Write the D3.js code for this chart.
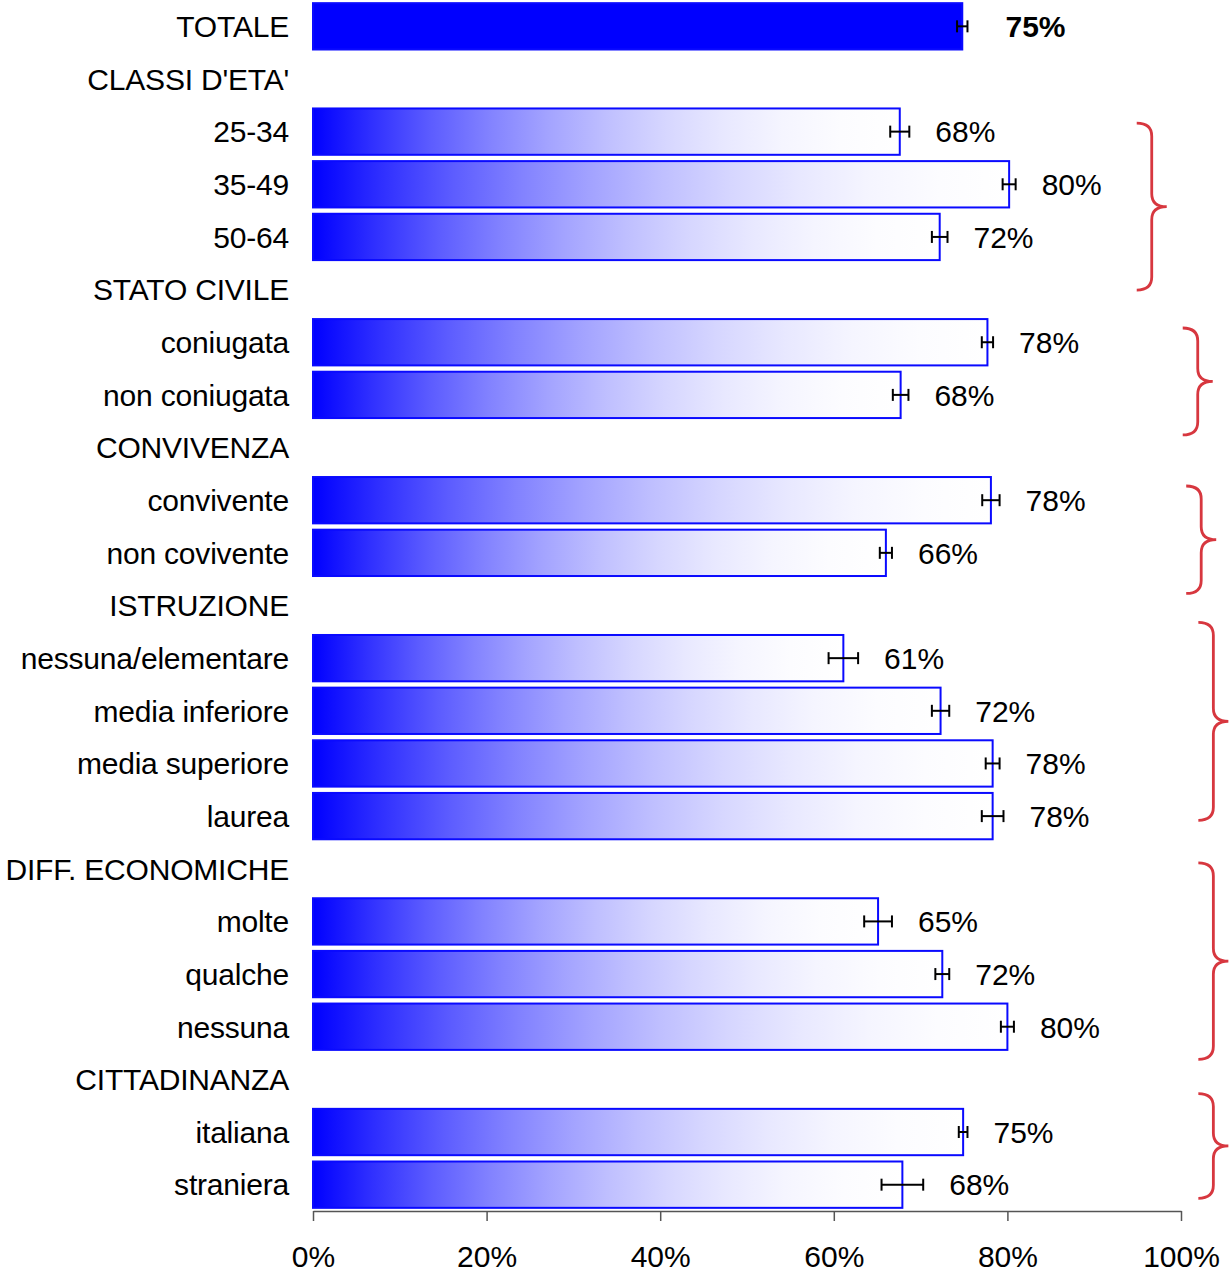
<!DOCTYPE html>
<html>
<head>
<meta charset="utf-8">
<script src="https://cdn.jsdelivr.net/npm/d3@7"></script>
<style>
  body { margin: 0; background: #fff; }
  text { font-family: "Liberation Sans", Arial, sans-serif; }
</style>
</head>
<body>
<svg id="chart" width="1230" height="1274"></svg>
<script>
// row labels (headers have no value)
var labels = ["TOTALE", "CLASSI D'ETA'", "25-34", "35-49", "50-64",
  "STATO CIVILE", "coniugata", "non coniugata",
  "CONVIVENZA", "convivente", "non covivente",
  "ISTRUZIONE", "nessuna/elementare", "media inferiore", "media superiore", "laurea",
  "DIFF. ECONOMICHE", "molte", "qualche", "nessuna",
  "CITTADINANZA", "italiana", "straniera"];

// percentages
var values = [74.8, null, 67.6, 80.2, 72.2,
  null, 77.7, 67.7,
  null, 78.1, 66.0,
  null, 61.1, 72.3, 78.3, 78.3,
  null, 65.1, 72.5, 80.0,
  null, 74.9, 67.9];

// half width of the confidence interval
var errors = [0.6, null, 1.1, 0.75, 0.9,
  null, 0.65, 0.9,
  null, 1.0, 0.7,
  null, 1.7, 1.0, 0.8, 1.25,
  null, 1.6, 0.8, 0.75,
  null, 0.5, 2.4];

var valueLabels = ["75%", "", "68%", "80%", "72%",
  "", "78%", "68%",
  "", "78%", "66%",
  "", "61%", "72%", "78%", "78%",
  "", "65%", "72%", "80%",
  "", "75%", "68%"];

var xTicks = [0, 20, 40, 60, 80, 100];

// red braces: x in %, from/to in row units
var braceX = [94.9, 100.2, 100.6, 102.0, 102.0, 102.0];
var braceFrom = [1.84, 5.73, 8.73, 11.32, 15.89, 20.27];
var braceTo = [5.01, 7.76, 10.77, 15.08, 19.62, 22.26];

var svg = d3.select("#chart");

var x = d3.scaleLinear().domain([0, 100]).range([313, 1181]);
var y = d3.scaleBand()
  .domain(d3.range(labels.length))
  .range([0, 1211])
  .paddingInner(0.12)
  .paddingOuter(0.06);

// row index (fractional) -> pixel centre
var rowY = d3.scaleLinear()
  .domain([0, labels.length - 1])
  .range([y(0) + y.bandwidth() / 2, y(labels.length - 1) + y.bandwidth() / 2]);

// gradient blue -> white, eased
var defs = svg.append("defs");
var grad = defs.append("linearGradient").attr("id", "fade")
  .attr("x1", "0").attr("x2", "1").attr("y1", "0").attr("y2", "0");
d3.range(0, 1.0001, 0.1).forEach(function (t) {
  var w = 1 - Math.pow(1 - t, 2);
  grad.append("stop")
    .attr("offset", t)
    .attr("stop-color", d3.interpolateRgb("#0000ff", "#ffffff")(w));
});

var rows = labels.map(function (l, i) {
  return { label: l, value: values[i], err: errors[i], text: valueLabels[i], i: i };
});
var barRows = rows.filter(function (d) { return d.value != null; });

// category labels
svg.append("g").selectAll("text")
  .data(rows)
  .join("text")
  .attr("x", 289)
  .attr("y", function (d) { return y(d.i) + y.bandwidth() / 2; })
  .attr("dy", "0.36em")
  .attr("text-anchor", "end")
  .attr("font-size", 30)
  .attr("letter-spacing", "-0.2")
  .attr("fill", "#000")
  .text(function (d) { return d.label; });

// bars
svg.append("g").selectAll("rect")
  .data(barRows)
  .join("rect")
  .attr("x", x(0))
  .attr("y", function (d) { return y(d.i); })
  .attr("width", function (d) { return x(d.value) - x(0); })
  .attr("height", y.bandwidth())
  .attr("fill", function (d) { return d.i === 0 ? "#0000ff" : "url(#fade)"; })
  .attr("stroke", "#0a0aff")
  .attr("stroke-width", 2);

// error bars
var eb = svg.append("g").attr("stroke", "#000").attr("stroke-width", 2);
barRows.forEach(function (d) {
  var cy = y(d.i) + y.bandwidth() / 2;
  eb.append("line")
    .attr("x1", x(d.value - d.err)).attr("x2", x(d.value + d.err))
    .attr("y1", cy).attr("y2", cy);
  [d.value - d.err, d.value + d.err].forEach(function (v) {
    eb.append("line")
      .attr("x1", x(v)).attr("x2", x(v))
      .attr("y1", cy - 6).attr("y2", cy + 6);
  });
});

// value labels
svg.append("g").selectAll("text")
  .data(barRows)
  .join("text")
  .attr("x", function (d) { return x(d.value + d.err) + (d.i === 0 ? 38 : 26); })
  .attr("y", function (d) { return y(d.i) + y.bandwidth() / 2; })
  .attr("dy", "0.36em")
  .attr("font-size", 30)
  .attr("font-weight", function (d) { return d.i === 0 ? "bold" : "normal"; })
  .attr("fill", "#000")
  .text(function (d) { return d.text; });

// x axis
var axis = svg.append("g")
  .attr("transform", "translate(0,1211)")
  .call(d3.axisBottom(x)
    .tickValues(xTicks)
    .tickFormat(function (d) { return d + "%"; })
    .tickSize(10)
    .tickSizeOuter(0)
    .tickPadding(25));
axis.select(".domain").attr("stroke", "#555").attr("stroke-width", 1.5);
axis.selectAll(".tick line").attr("stroke", "#555").attr("stroke-width", 1.5);
axis.selectAll(".tick text")
  .attr("font-size", 30)
  .attr("font-family", "Liberation Sans, Arial, sans-serif")
  .attr("fill", "#000");

// braces
function bracePath(x0, yT, yB) {
  var w = 30, xm = x0 + w / 2, ym = (yT + yB) / 2, r = 13;
  return "M" + x0 + "," + yT +
    " Q" + xm + "," + yT + " " + xm + "," + (yT + r) +
    " L" + xm + "," + (ym - r) +
    " Q" + xm + "," + ym + " " + (x0 + w) + "," + ym +
    " Q" + xm + "," + ym + " " + xm + "," + (ym + r) +
    " L" + xm + "," + (yB - r) +
    " Q" + xm + "," + yB + " " + x0 + "," + yB;
}
svg.append("g").selectAll("path")
  .data(braceX.map(function (bx, i) { return { x: bx, from: braceFrom[i], to: braceTo[i] }; }))
  .join("path")
  .attr("d", function (d) { return bracePath(x(d.x), rowY(d.from), rowY(d.to)); })
  .attr("fill", "none")
  .attr("stroke", "#d7373f")
  .attr("stroke-width", 2.8);
</script>
</body>
</html>
